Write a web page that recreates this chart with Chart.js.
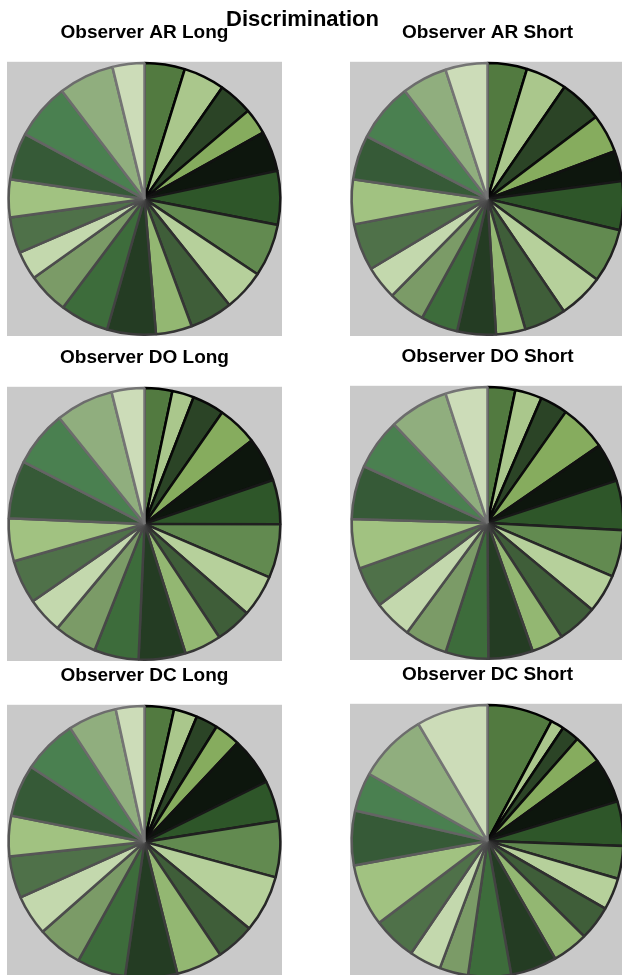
<!DOCTYPE html>
<html>
<head>
<meta charset="utf-8">
<script src="https://cdn.jsdelivr.net/npm/chart.js@4/dist/chart.umd.min.js"></script>
<style>
  html, body { margin: 0; padding: 0; background: #fff; overflow: hidden; width: 622px; height: 975px; }
  .main-title { position: absolute; left: 0; width: 605px; top: 8px; text-align: center;
    font: bold 22px "Liberation Sans", Arial, sans-serif; line-height: 22px; color: #000; }
  .box { position: absolute; width: 275px; height: 315px; }
</style>
</head>
<body>
<div class="box" style="left:7px;top:21px"><canvas id="arLong"></canvas></div>
<div class="box" style="left:350px;top:21px"><canvas id="arShort"></canvas></div>
<div class="box" style="left:7px;top:346px"><canvas id="doLong"></canvas></div>
<div class="box" style="left:350px;top:345px"><canvas id="doShort"></canvas></div>
<div class="box" style="left:7px;top:664px"><canvas id="dcLong"></canvas></div>
<div class="box" style="left:350px;top:663px"><canvas id="dcShort"></canvas></div>
<div class="main-title">Discrimination</div>
<script>
// 20 categories per observer/condition (share of total, %)
var categories = ["C1", "C2", "C3", "C4", "C5", "C6", "C7", "C8", "C9", "C10",
    "C11", "C12", "C13", "C14", "C15", "C16", "C17", "C18", "C19", "C20"]

var arLong  = [4.8, 4.9, 4.1, 3.1, 4.8, 6.4, 6.3, 4.9, 5.1, 4.3, 5.8, 5.8, 4.9, 3.4, 4.3, 4.5, 5.6, 6.7, 6.6, 3.8]
var arShort = [4.7, 4.9, 5.1, 4.6, 3.6, 5.8, 6.4, 5.4, 5.0, 3.5, 4.6, 4.4, 4.4, 4.0, 5.6, 5.3, 5.3, 7.0, 5.4, 5.0]
var doLong  = [3.3, 2.6, 3.8, 4.8, 5.3, 5.3, 6.4, 5.0, 4.3, 4.4, 5.6, 5.3, 5.1, 4.3, 5.2, 5.1, 6.9, 6.7, 6.9, 3.9]
var doShort = [3.3, 3.2, 3.3, 5.6, 4.6, 5.9, 5.6, 4.6, 4.8, 3.8, 5.3, 5.1, 5.1, 4.6, 4.9, 5.9, 6.4, 6.1, 7.1, 5.0]
var dcLong  = [3.5, 2.8, 2.6, 3.1, 5.7, 4.8, 6.7, 6.8, 4.6, 5.5, 6.2, 5.8, 5.4, 4.8, 5.0, 4.8, 6.2, 6.5, 5.8, 3.4]
var dcShort = [7.8, 1.6, 2.1, 3.5, 5.3, 5.3, 3.9, 3.8, 4.1, 4.3, 5.5, 5.1, 3.4, 3.8, 5.2, 7.4, 6.5, 4.6, 8.3, 8.5]

var fills = ["#527a40", "#aac78c", "#2b4426", "#86ac5e", "#0d160d", "#2e5629", "#628a50", "#b6d09b", "#3f5e39", "#93b772",
    "#243c23", "#3d6c3b", "#7b9b67", "#c3d8ad", "#4f7149", "#a1c281", "#365a37", "#4a8050", "#90ae7e", "#ccdcb8"]
var borders = ["#000", "#040404", "#080808", "#0c0c0c", "#111", "#181818", "#202020", "#282828", "#303030", "#363636",
    "#3c3c3c", "#424242", "#484848", "#4c4c4c", "#505050", "#565656", "#5c5c5c", "#646464", "#6c6c6c", "#747474"]

// grey square behind each pie
var plotBg = {
    id: "plotBg",
    beforeDraw: function (chart) {
        var a = chart.chartArea
        chart.ctx.save()
        chart.ctx.fillStyle = "#c9c9c9"
        chart.ctx.fillRect(a.left, a.top, a.right - a.left, a.bottom - a.top)
        chart.ctx.restore()
    }
}

function makePie(id, title, values) {
    return new Chart(document.getElementById(id), {
        type: "pie",
        data: {
            labels: categories,
            datasets: [{
                data: values,
                backgroundColor: fills,
                borderColor: borders,
                borderWidth: 2.5
            }]
        },
        options: {
            responsive: true,
            maintainAspectRatio: false,
            animation: false,
            layout: { padding: 0 },
            plugins: {
                legend: { display: false },
                tooltip: { enabled: false },
                title: {
                    display: true,
                    text: title,
                    color: "#000",
                    font: { family: "'Liberation Sans', Arial, sans-serif", size: 19, weight: "bold" },
                    padding: { top: 0, bottom: 18 }
                }
            }
        },
        plugins: [plotBg]
    })
}

makePie("arLong", "Observer AR Long", arLong)
makePie("arShort", "Observer AR Short", arShort)
makePie("doLong", "Observer DO Long", doLong)
makePie("doShort", "Observer DO Short", doShort)
makePie("dcLong", "Observer DC Long", dcLong)
makePie("dcShort", "Observer DC Short", dcShort)
</script>
</body>
</html>
